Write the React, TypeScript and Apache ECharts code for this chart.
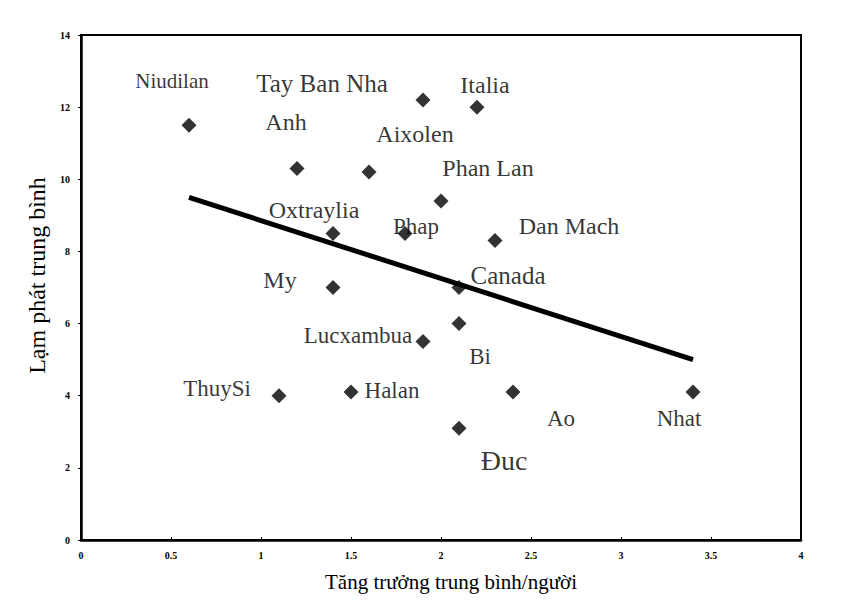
import React, { useEffect, useRef } from "react";
import * as echarts from "echarts";

// Data
const countries = [
  "Niudilan", "Tay Ban Nha", "Italia", "Anh", "Aixolen", "Phan Lan", "Oxtraylia", "Phap",
  "Dan Mach", "Canada", "My", "Bi", "Lucxambua", "ThuySi", "Halan", "Ao", "Nhat", "Đuc",
];
const growth = [0.6, 1.9, 2.2, 1.2, 1.6, 2.0, 1.4, 1.8, 2.3, 2.1, 1.4, 2.1, 1.9, 1.1, 1.5, 2.4, 3.4, 2.1];
const inflation = [11.5, 12.2, 12.0, 10.3, 10.2, 9.4, 8.5, 8.5, 8.3, 7.0, 7.0, 6.0, 5.5, 4.0, 4.1, 4.1, 4.1, 3.1];
const trendX = [0.6, 3.4];
const trendY = [9.5, 5.0];
const xTicks = ["0", "0.5", "1", "1.5", "2", "2.5", "3", "3.5", "4"];
const yTicks = ["0", "2", "4", "6", "8", "10", "12", "14"];

// Label placement (pixel offsets from each point) and font sizes
const labelOffsets: [number, number][] = [
  [-17, -44], [-101, -16], [8, -22], [-11, -46], [46, -38], [47, -33], [-19, -23], [11, -7],
  [74, -15], [49, -12], [-53, -8], [21, 33], [-65, -6], [-62, -7], [41, -2], [48, 26], [-14, 26], [45, 32],
];
const labelSizes = [21, 25, 24, 24, 24, 24, 24, 23, 24, 25, 24, 23, 23, 23, 23, 23, 23, 28];

const FONT = "'Liberation Serif', 'Times New Roman', serif";

export default function App() {
  const ref = useRef<HTMLDivElement>(null);
  useEffect(() => {
    if (!ref.current) return;
    const chart = echarts.init(ref.current, null, { renderer: "svg" });
    const points = countries.map((name, i) => ({
      name,
      value: [growth[i], inflation[i]],
      label: {
        show: true,
        position: "inside",
        offset: labelOffsets[i],
        formatter: name,
        fontSize: labelSizes[i],
        fontFamily: FONT,
        color: "#000",
      },
    }));
    chart.setOption({
      animation: false,
      backgroundColor: "#fff",
      grid: {
        left: 73,
        right: 32,
        top: 27,
        bottom: 63,
        show: true,
        borderColor: "#000",
        borderWidth: 2,
        backgroundColor: "transparent",
      },
      xAxis: {
        type: "value",
        min: 0,
        max: 4,
        interval: 0.5,
        splitLine: { show: false },
        axisLine: { show: true, lineStyle: { color: "#000", width: 2.5 } },
        axisTick: { show: true, length: 3, inside: true, lineStyle: { color: "#000" } },
        axisLabel: {
          color: "#000",
          fontFamily: FONT,
          fontWeight: "bold",
          fontSize: 10,
          margin: 10,
          formatter: (v: number) => xTicks[Math.round(v * 2)] ?? String(v),
        },
        name: "Tăng trưởng trung bình/người",
        nameLocation: "middle",
        nameGap: 31,
        nameTextStyle: { color: "#000", fontFamily: FONT, fontSize: 21, padding: [0, 0, 0, 20] },
      },
      yAxis: {
        type: "value",
        min: 0,
        max: 14,
        interval: 2,
        splitLine: { show: false },
        axisLine: { show: true, lineStyle: { color: "#000", width: 2.5 } },
        axisTick: { show: true, length: 3, lineStyle: { color: "#000" } },
        axisLabel: {
          color: "#000",
          fontFamily: FONT,
          fontWeight: "bold",
          fontSize: 10,
          margin: 11,
          formatter: (v: number) => yTicks[Math.round(v / 2)] ?? String(v),
        },
        name: "Lạm phát trung bình",
        nameLocation: "middle",
        nameGap: 29,
        nameTextStyle: { color: "#000", fontFamily: FONT, fontSize: 24, padding: [0, 0, 0, 24] },
      },
      series: [
        {
          type: "line",
          data: trendX.map((x, i) => [x, trendY[i]]),
          showSymbol: false,
          symbol: "none",
          lineStyle: { color: "#000", width: 5 },
          z: 2,
          silent: true,
        },
        {
          type: "scatter",
          data: points,
          symbol: "diamond",
          symbolSize: [15, 15],
          itemStyle: { color: "#000" },
          z: 3,
        },
      ],
    });
    return () => chart.dispose();
  }, []);
  return <div ref={ref} style={{ width: 825, height: 595 }} />;
}
